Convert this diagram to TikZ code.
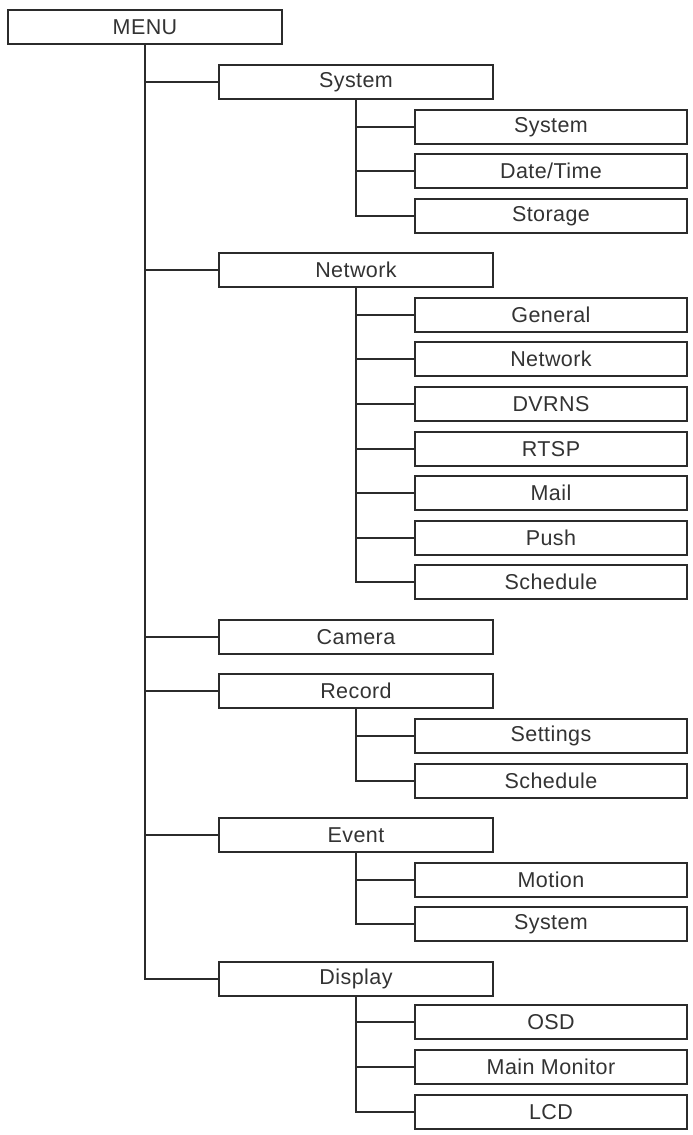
\documentclass[tikz,border=0pt]{standalone}
\usepackage{fontspec}
\usepackage{tikz}
\usetikzlibrary{positioning}
\newfontfamily\menufont{Liberation Sans}[LetterSpace=2]
\definecolor{ink}{HTML}{2B2B2B}
\definecolor{txt}{HTML}{333333}
\tikzset{
  % --- nodes
  box/.style  = {draw=ink, line width=2pt, fill=white, inner sep=0pt,
                 minimum width=272pt, minimum height=34pt,
                 font=\menufont\fontsize{21.5}{24}\selectfont, text=txt},
  head/.style = {box, minimum width=274pt},
  % --- edges
  ln/.style   = {draw=ink, line width=2pt},
}
\begin{document}
\begin{tikzpicture}[x=1pt,y=-1pt]
  \useasboundingbox (0,0) rectangle (693,1135);
  \node[head] (menu) at (145,27) {MENU};
  % level 1
  \node[head] (sys)  at (356,82)  {System};
  \node[head] (net)  at (356,270) {Network};
  \node[head] (cam)  at (356,637) {Camera};
  \node[head] (rec)  at (356,691) {Record};
  \node[head] (evt)  at (356,835) {Event};
  \node[head] (disp) at (356,979) {Display};
  % level 2
  \node[box] (sys1) at (551,127) {System};
  \node[box] (sys2) at (551,171) {Date/Time};
  \node[box] (sys3) at (551,216) {Storage};
  \node[box] (net1) at (551,315) {General};
  \node[box] (net2) at (551,359) {Network};
  \node[box] (net3) at (551,404) {DVRNS};
  \node[box] (net4) at (551,449) {RTSP};
  \node[box] (net5) at (551,493) {Mail};
  \node[box] (net6) at (551,538) {Push};
  \node[box] (net7) at (551,582) {Schedule};
  \node[box] (rec1) at (551,736) {Settings};
  \node[box] (rec2) at (551,781) {Schedule};
  \node[box] (evt1) at (551,880) {Motion};
  \node[box] (evt2) at (551,924) {System};
  \node[box] (disp1) at (551,1022) {OSD};
  \node[box] (disp2) at (551,1067) {Main Monitor};
  \node[box] (disp3) at (551,1112) {LCD};
  % connectors
  \draw[ln] (menu.south) |- (sys.west);  \draw[ln] (menu.south) |- (net.west);
  \draw[ln] (menu.south) |- (cam.west);  \draw[ln] (menu.south) |- (rec.west);
  \draw[ln] (menu.south) |- (evt.west);  \draw[ln] (menu.south) |- (disp.west);
  \draw[ln] (sys.south) |- (sys1.west); \draw[ln] (sys.south) |- (sys2.west);
  \draw[ln] (sys.south) |- (sys3.west);
  \draw[ln] (net.south) |- (net1.west); \draw[ln] (net.south) |- (net2.west);
  \draw[ln] (net.south) |- (net3.west); \draw[ln] (net.south) |- (net4.west);
  \draw[ln] (net.south) |- (net5.west); \draw[ln] (net.south) |- (net6.west);
  \draw[ln] (net.south) |- (net7.west);
  \draw[ln] (rec.south) |- (rec1.west); \draw[ln] (rec.south) |- (rec2.west);
  \draw[ln] (evt.south) |- (evt1.west); \draw[ln] (evt.south) |- (evt2.west);
  \draw[ln] (disp.south) |- (disp1.west); \draw[ln] (disp.south) |- (disp2.west);
  \draw[ln] (disp.south) |- (disp3.west);
\end{tikzpicture}
\end{document}
